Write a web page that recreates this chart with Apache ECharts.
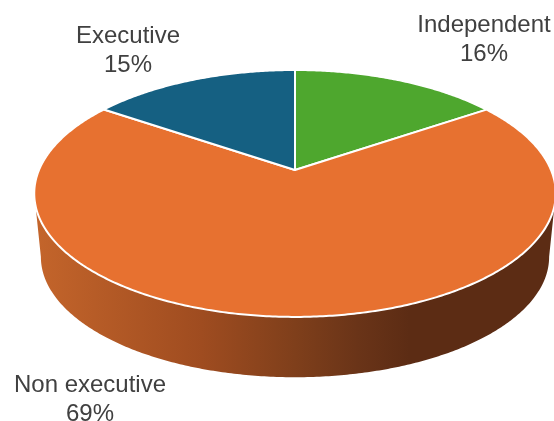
<!DOCTYPE html>
<html>
<head>
<meta charset="utf-8">
<style>
html, body { margin: 0; padding: 0; background: #fff; }
#main { width: 554px; height: 421px; }
</style>
<script src="https://cdn.jsdelivr.net/npm/echarts@6/dist/echarts.min.js"></script>
</head>
<body>
<div id="main"></div>
<script>
// clockwise from 12 o'clock, estimated from the slice edges (labels show them rounded)
var categories = ['Independent', 'Non executive', 'Executive'];
var shares = [15.52, 69, 15.48];
var sliceColors = ['#4ea72e', '#e77130', '#156082'];
var labelCenters = [[484, 40], [90, 400], [128, 51]];

var total = shares.reduce(function (a, b) { return a + b; }, 0);

// the pie is tilted, so the centre sits above the middle of the ellipse
var lean = 0.19;
var topDisc = { x: 295, y: 170, rx: 256, ry: 119 };
var lowDisc = { x: 295, y: 234, rx: 249.5, ry: 116 };

function project(disc, angle) {
    var u = Math.sin(angle);
    var v = -Math.cos(angle);
    var d = 1 - lean * v;
    return [disc.x + disc.rx * u / d, disc.y + disc.ry * v / d];
}

function arc(disc, from, to) {
    var pts = [];
    var n = Math.max(2, Math.ceil(Math.abs(to - from) / 0.01));
    for (var i = 0; i <= n; i++) {
        pts.push(project(disc, from + (to - from) * i / n));
    }
    return pts;
}

function angleOf(share) {
    return share / total * Math.PI * 2;
}

var sideGradient = new echarts.graphic.LinearGradient(34, 0, 556, 0, [
    { offset: 0, color: '#c4652b' },
    { offset: 0.32, color: '#9f4c20' },
    { offset: 0.5, color: '#7f3f1b' },
    { offset: 0.62, color: '#6a3418' },
    { offset: 0.72, color: '#5c2c14' },
    { offset: 1, color: '#5c2c14' }
], true);

// the wall shows between the left and right extremes of the ellipse
var wallFrom = Math.PI - Math.acos(lean);
var wallTo = Math.PI + Math.acos(lean);

function renderSlice(params, api) {
    var idx = params.dataIndex;
    var start = 0;
    for (var i = 0; i < idx; i++) {
        start += angleOf(shares[i]);
    }
    var end = start + angleOf(api.value(0));
    var children = [];

    var a = Math.max(start, wallFrom);
    var b = Math.min(end, wallTo);
    if (b > a) {
        children.push({
            type: 'polygon',
            shape: { points: arc(topDisc, a, b).concat(arc(lowDisc, b, a)) },
            style: { fill: sideGradient }
        });
    }

    children.push({
        type: 'polygon',
        shape: { points: [[topDisc.x, topDisc.y]].concat(arc(topDisc, start, end)) },
        style: { fill: sliceColors[idx], stroke: '#fff', lineWidth: 2, lineJoin: 'round' }
    });

    children.push({
        type: 'text',
        x: labelCenters[idx][0],
        y: labelCenters[idx][1],
        style: {
            text: categories[idx] + '\n' + Math.round(api.value(0)) + '%',
            fill: '#404040',
            font: '24px "Liberation Sans", Arial, sans-serif',
            lineHeight: 28.5,
            textAlign: 'center',
            verticalAlign: 'middle'
        }
    });

    return { type: 'group', children: children };
}

var myChart = echarts.init(document.getElementById('main'), null, { renderer: 'canvas' });
myChart.setOption({
    backgroundColor: '#fff',
    animation: false,
    series: [{
        type: 'custom',
        coordinateSystem: 'none',
        silent: true,
        renderItem: renderSlice,
        data: shares.map(function (s) { return [s]; })
    }]
});
</script>
</body>
</html>
